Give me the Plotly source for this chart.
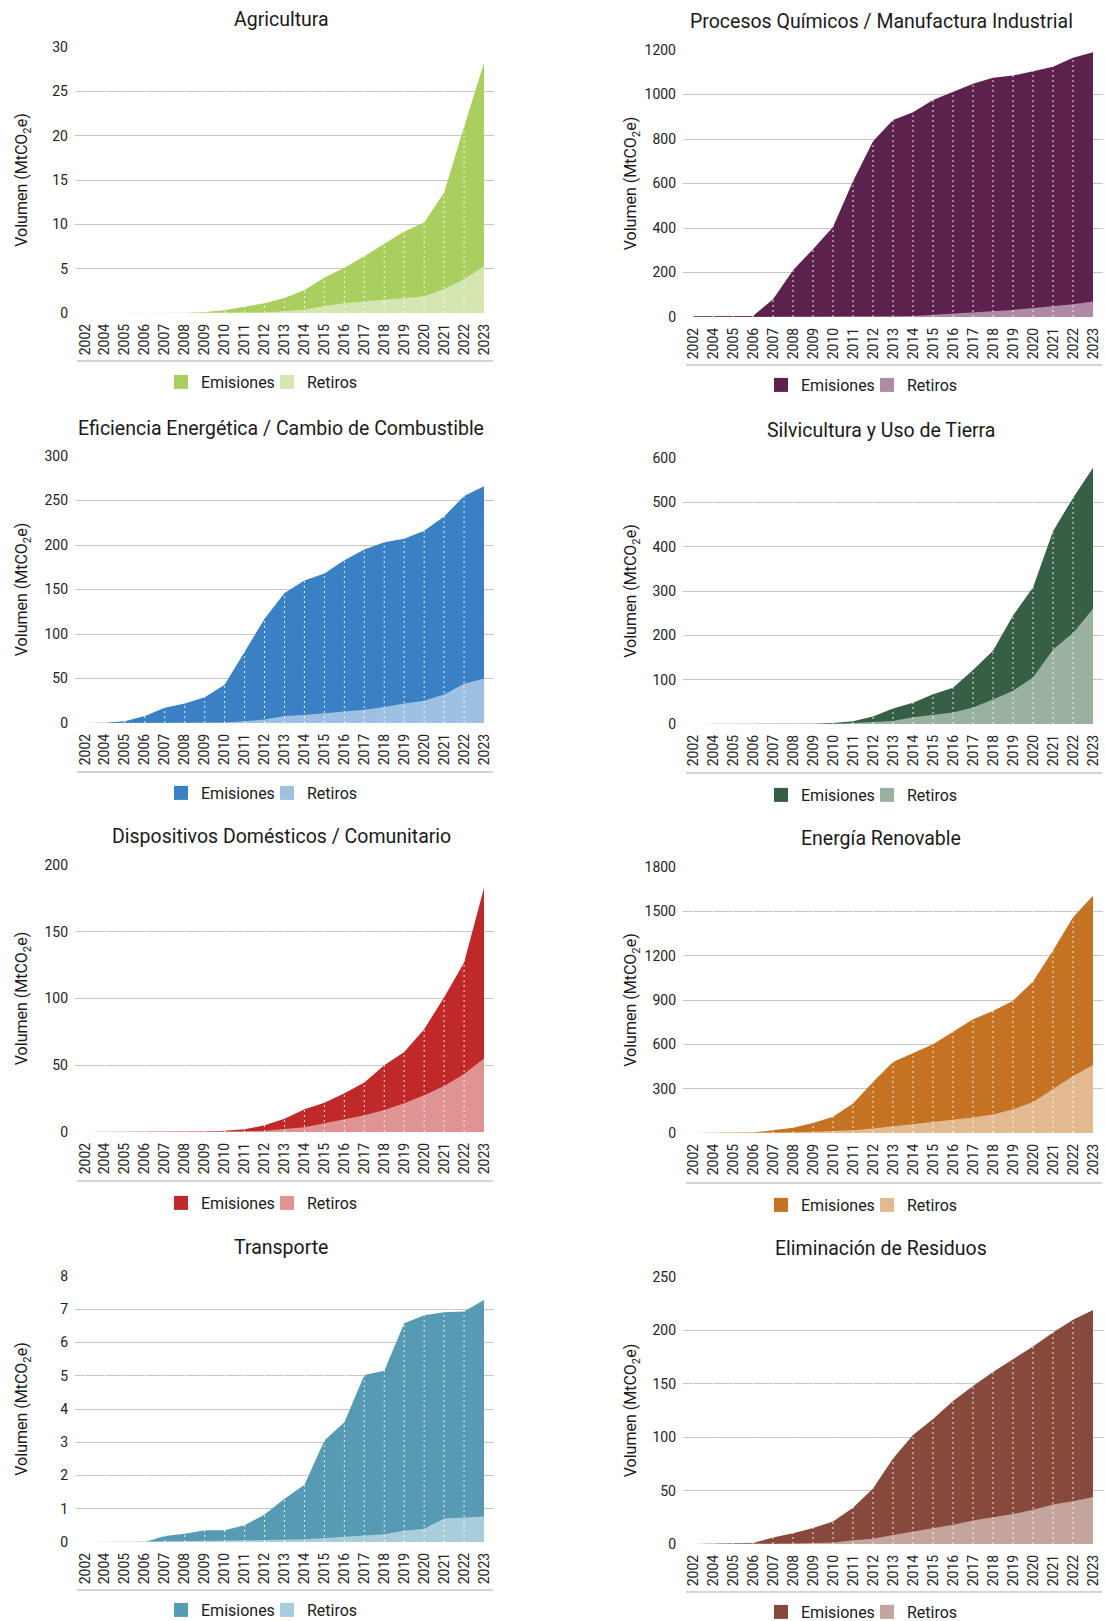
import plotly.graph_objects as go

years = ["2002", "2004", "2005", "2006", "2007", "2008", "2009", "2010", "2011", "2012",
         "2013", "2014", "2015", "2016", "2017", "2018", "2019", "2020", "2021", "2022", "2023"]

agri_em = [0, 0, 0, 0, 0, 0, 0.1, 0.3, 0.7, 1.1, 1.7, 2.6, 4.0, 5.1, 6.4, 7.8, 9.2, 10.2, 13.6, 21.0, 28.2]
agri_ret = [0, 0, 0, 0, 0, 0, 0, 0.02, 0.03, 0.05, 0.2, 0.4, 0.8, 1.1, 1.3, 1.5, 1.7, 1.9, 2.7, 3.8, 5.3]

quim_em = [3, 3, 3, 5, 80, 210, 305, 405, 610, 790, 885, 920, 975, 1010, 1048, 1075, 1085, 1105, 1125, 1165, 1190]
quim_ret = [0, 0, 0, 0, 0.5, 1, 1, 1.5, 1.5, 2, 3, 5, 10, 15, 20, 27, 32, 40, 47, 57, 70]

efic_em = [0, 0.3, 2, 8, 17, 22, 29, 43, 80, 117, 146, 160, 168, 183, 195, 203, 207, 216, 232, 255, 266]
efic_ret = [0, 0, 0, 0.1, 0.2, 0.3, 0.3, 0.7, 2, 4, 8, 9, 11, 13, 15, 18, 22, 25, 32, 44, 50]

silv_em = [0, 0, 0, 0, 0, 0, 0.5, 2, 6, 17, 35, 48, 67, 82, 122, 165, 245, 308, 435, 510, 578]
silv_ret = [0, 0, 0, 0, 0, 0, 0, 0.5, 2, 4, 7, 15, 20, 26, 37, 55, 75, 105, 168, 205, 260]

disp_em = [0, 0, 0, 0, 0, 0, 0.3, 1, 2, 5, 10, 17, 22, 29, 37, 50, 60, 77, 101, 127, 183]
disp_ret = [0, 0, 0, 0, 0, 0, 0, 0.2, 0.5, 1, 2, 3.5, 6.5, 9.5, 12.5, 16.5, 21.5, 27.5, 34.5, 43.5, 55]

reno_em = [0, 0, 0, 3, 18, 35, 68, 110, 200, 345, 480, 540, 600, 685, 770, 825, 895, 1025, 1235, 1460, 1605]
reno_ret = [0, 0, 0, 0, 2, 5, 8, 12, 18, 30, 45, 55, 72, 85, 105, 125, 160, 210, 295, 385, 460]

trans_em = [0, 0, 0, 0, 0.18, 0.25, 0.35, 0.35, 0.5, 0.83, 1.3, 1.72, 3.05, 3.6, 5.02, 5.15, 6.58, 6.82, 6.91, 6.93, 7.28]
trans_ret = [0, 0, 0, 0, 0.02, 0.03, 0.03, 0.04, 0.05, 0.06, 0.07, 0.08, 0.12, 0.15, 0.18, 0.23, 0.34, 0.4, 0.71, 0.75, 0.77]

resid_em = [0, 0.5, 1, 1, 6, 10, 15, 21, 34, 52, 80, 102, 117, 134, 148, 161, 173, 185, 198, 210, 219]
resid_ret = [0, 0, 0, 0, 0.3, 0.5, 1, 1.5, 3.5, 5, 8.5, 11.5, 15, 18, 22, 25, 28, 32, 37, 40, 44]

titles = ["Agricultura", "Procesos Químicos / Manufactura Industrial",
          "Eficiencia Energética / Cambio de Combustible", "Silvicultura y Uso de Tierra",
          "Dispositivos Domésticos / Comunitario", "Energía Renovable",
          "Transporte", "Eliminación de Residuos"]
emisiones = [agri_em, quim_em, efic_em, silv_em, disp_em, reno_em, trans_em, resid_em]
retiros = [agri_ret, quim_ret, efic_ret, silv_ret, disp_ret, reno_ret, trans_ret, resid_ret]
y_max = [30, 1200, 300, 600, 200, 1800, 8, 250]
y_dtick = [5, 200, 50, 100, 50, 300, 1, 50]
col_em = ["#aacf5f", "#5c224d", "#3a80c5", "#365f46", "#c0292a", "#c57222", "#579ab4", "#87493c"]
col_ret = ["#d5e7b1", "#ae8aa4", "#9dc0e3", "#9bb1a0", "#e09393", "#e3b98f", "#a9cedb", "#c5a49d"]

W, H = 1105, 1621
# layout geometry in pixels
col_x = [(75, 494), (683, 1103)]
rows_y = [[(47, 313), (456, 723), (865, 1132), (1276, 1542)],
          [(50, 317), (458, 724), (867, 1133), (1277, 1544)]]
title_y = [[19, 428, 837, 1247], [22, 430, 839, 1248]]
title_x = [281, 881]
legend_y = [[382, 793, 1203, 1610], [385, 795, 1205, 1612]]
legend_x = [161, 761]
sep_y = [[361, 772, 1181, 1590], [365, 773, 1183, 1592]]
sep_x = [(77, 493), (686, 1102)]
ytitle_x = [21, 630]

FONT = "Roboto"
TICK_SIZE = 14
YT_SIZE = 16
TL_STANDOFF = 6

fig = go.Figure()
shapes = []
annotations = []
layout = {}

for i in range(8):
    c, r = i % 2, i // 2
    n = i + 1
    xa = "x" if n == 1 else f"x{n}"
    ya = "y" if n == 1 else f"y{n}"
    lg = "legend" if n == 1 else f"legend{n}"

    fig.add_trace(go.Scatter(x=years, y=emisiones[i], name="Emisiones", mode="lines",
                             line=dict(width=0, color=col_em[i]), fill="tozeroy",
                             fillcolor=col_em[i], xaxis=xa, yaxis=ya, showlegend=False,
                             hoverinfo="x+y+name"))
    fig.add_trace(go.Scatter(x=years, y=retiros[i], name="Retiros", mode="lines",
                             line=dict(width=0, color=col_ret[i]), fill="tozeroy",
                             fillcolor=col_ret[i], xaxis=xa, yaxis=ya, showlegend=False,
                             hoverinfo="x+y+name"))
    # legend entries (square swatches)
    for nm, colr in (("Emisiones", col_em[i]), ("Retiros", col_ret[i])):
        fig.add_trace(go.Scatter(x=[None], y=[None], name=nm, mode="markers",
                                 marker=dict(symbol="square", size=14, color=colr),
                                 xaxis=xa, yaxis=ya, legend=lg, showlegend=True))

    x0, x1 = col_x[c]
    y0, y1 = rows_y[c][r]
    # y-title standoff so the title sits at a fixed x, whatever the tick label width
    label_w = len(str(y_max[i])) * 0.562 * TICK_SIZE
    label_left = x0 - TL_STANDOFF - label_w
    standoff = max(2, label_left - 12.4 - ytitle_x[c])

    layout["xaxis" if n == 1 else f"xaxis{n}"] = dict(
        domain=[x0 / W, x1 / W], anchor=ya, type="category",
        range=[-0.5, len(years) - 0.5], tickangle=-90,
        tickfont=dict(family=FONT, size=TICK_SIZE, color="#222222"),
        showgrid=False, showline=False, zeroline=False, ticks="",
        ticklabelstandoff=7, fixedrange=True)
    layout["yaxis" if n == 1 else f"yaxis{n}"] = dict(
        domain=[1 - y1 / H, 1 - y0 / H], anchor=xa, range=[0, y_max[i]],
        dtick=y_dtick[i], tick0=0, showgrid=True, gridcolor="#c6c6c6", gridwidth=1.3,
        zeroline=False, showline=False, ticks="",
        tickfont=dict(family=FONT, size=TICK_SIZE, color="#222222"),
        ticklabelstandoff=TL_STANDOFF,
        title=dict(text="Volumen (MtCO<sub>2</sub>e)", standoff=standoff,
                   font=dict(family=FONT, size=YT_SIZE, color="#1a1a1a")),
        fixedrange=True)
    layout[lg] = dict(orientation="h", x=legend_x[c] / W, xanchor="left",
                      y=1 - legend_y[c][r] / H, yanchor="middle",
                      font=dict(family=FONT, size=16, color="#1a1a1a"),
                      bgcolor="rgba(0,0,0,0)", itemwidth=30, tracegroupgap=0,
                      entrywidth=61)

    annotations.append(dict(text=titles[i], x=title_x[c] / W, y=1 - title_y[c][r] / H,
                            xref="paper", yref="paper", xanchor="center", yanchor="middle",
                            showarrow=False, font=dict(family=FONT, size=19.5, color="#1a1a1a")))
    # separator line under tick labels
    shapes.append(dict(type="line", xref="paper", yref="paper",
                       x0=sep_x[c][0] / W, x1=sep_x[c][1] / W,
                       y0=1 - sep_y[c][r] / H, y1=1 - sep_y[c][r] / H,
                       line=dict(color="#c6c6c6", width=1.5)))
    # white dotted vertical guides at each category (category index positions)
    for k in range(len(years) - 1):
        shapes.append(dict(type="line", xref=xa, yref=f"{ya} domain", x0=k, x1=k,
                           y0=0, y1=1, layer="above",
                           line=dict(color="rgba(255,255,255,0.85)", width=1, dash="2px,3px")))

fig.update_layout(width=W, height=H,
                  margin=dict(l=0, r=0, t=0, b=0, autoexpand=False),
                  paper_bgcolor="white", plot_bgcolor="white",
                  shapes=shapes, annotations=annotations, **layout)

fig.write_html("out.html", config={"displayModeBar": False},
               post_script="document.body.style.margin='0';document.body.style.overflow='hidden';")
